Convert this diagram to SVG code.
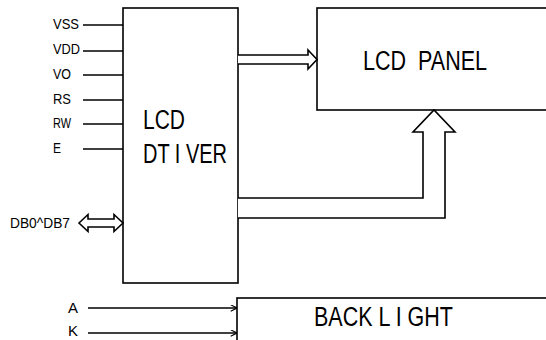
<svg xmlns="http://www.w3.org/2000/svg" width="546" height="340" viewBox="0 0 546 340">
<defs>
<style>
.bx{fill:#fff;stroke:#000;stroke-width:1.6}
.ln{fill:none;stroke:#000;stroke-width:1.6}
.ar{fill:#fff;stroke:#000;stroke-width:1.6;stroke-linejoin:miter}
text{font-family:"Liberation Sans","DejaVu Sans",sans-serif;fill:#000;white-space:pre}
.pin{font-size:15px}
.big{font-size:27px}
</style>
<marker id="chev" viewBox="0 0 10 10" refX="10" refY="5" markerWidth="7" markerHeight="7" markerUnits="userSpaceOnUse" orient="auto">
<path d="M1,0.5 L10,5 L1,9.5" fill="none" stroke="#000" stroke-width="1.6"/>
</marker>
</defs>
<rect width="546" height="340" fill="#fff"/>
<g id="driver">
<rect class="bx" x="123" y="8" width="115" height="275"/>
<text class="big" x="143" y="129" textLength="42" lengthAdjust="spacingAndGlyphs">LCD</text>
<text class="big" x="143" y="163" textLength="84" lengthAdjust="spacingAndGlyphs" xml:space="preserve">DT I VER</text>
</g>
<g id="panel">
<rect class="bx" x="317" y="8" width="240" height="102"/>
<text class="big" x="363" y="70" textLength="124" lengthAdjust="spacingAndGlyphs" xml:space="preserve">LCD  PANEL</text>
</g>
<g id="backlight">
<rect class="bx" x="237" y="298" width="320" height="60"/>
<text class="big" x="314" y="326" textLength="139" lengthAdjust="spacingAndGlyphs" xml:space="preserve">BACK L I GHT</text>
</g>
<g id="pins">
<text class="pin" x="53" y="29" textLength="26" lengthAdjust="spacingAndGlyphs">VSS</text>
<text class="pin" x="53" y="54" textLength="27" lengthAdjust="spacingAndGlyphs">VDD</text>
<text class="pin" x="53" y="79" textLength="18" lengthAdjust="spacingAndGlyphs">VO</text>
<text class="pin" x="53" y="104" textLength="18" lengthAdjust="spacingAndGlyphs">RS</text>
<text class="pin" x="53" y="128" textLength="18" lengthAdjust="spacingAndGlyphs">RW</text>
<text class="pin" x="53" y="153" textLength="8" lengthAdjust="spacingAndGlyphs">E</text>
<text class="pin" x="10" y="228" textLength="60" lengthAdjust="spacingAndGlyphs">DB0^DB7</text>
<text class="pin" x="68" y="313" textLength="10" lengthAdjust="spacingAndGlyphs">A</text>
<text class="pin" x="68" y="336" font-size="14" textLength="10" lengthAdjust="spacingAndGlyphs">K</text>
</g>
<g id="connectors">
<line class="ln" x1="83" y1="25" x2="123" y2="25"/>
<line class="ln" x1="83" y1="51" x2="123" y2="51"/>
<line class="ln" x1="83" y1="75" x2="123" y2="75"/>
<line class="ln" x1="83" y1="100" x2="123" y2="100"/>
<line class="ln" x1="83" y1="124" x2="123" y2="124"/>
<line class="ln" x1="83" y1="149" x2="123" y2="149"/>
<path class="ar" d="M79,223 L88,214.5 L88,219 L114,219 L114,214.5 L123,223 L114,231.5 L114,227 L88,227 L88,231.5 Z"/>
<path class="ar" d="M238,55 L308,55 L308,50 L317,59.5 L308,69 L308,64 L238,64"/>
<path class="ar" d="M238,198 L423,198 L423,132 L413,132 L434,110 L455,132 L445,132 L445,218 L238,218"/>
<line class="ln" x1="88" y1="308" x2="237" y2="308" marker-end="url(#chev)"/>
<line class="ln" x1="88" y1="333" x2="237" y2="333" marker-end="url(#chev)"/>
</g>
</svg>
